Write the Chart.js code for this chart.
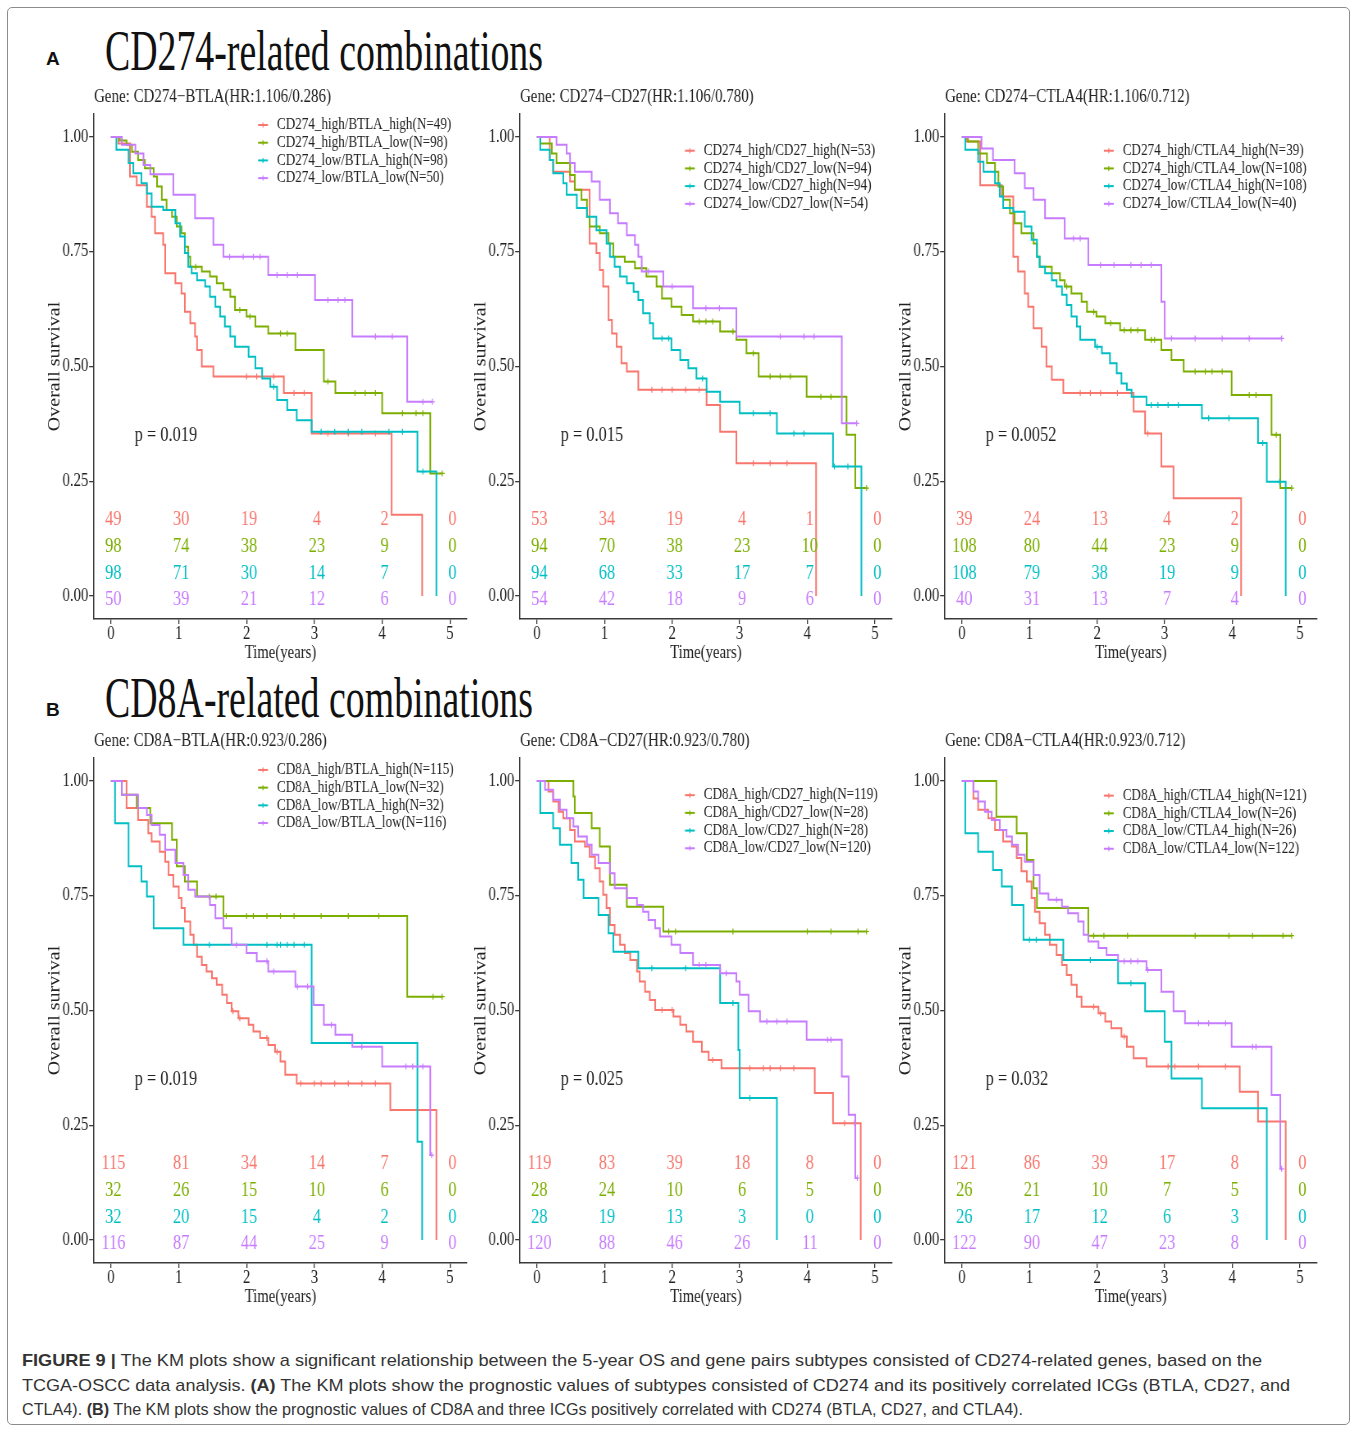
<!DOCTYPE html>
<html>
<head>
<meta charset="utf-8">
<script src="https://cdn.jsdelivr.net/npm/chart.js@4.4.1/dist/chart.umd.min.js"></script>
<style>
  html, body { margin: 0; padding: 0; background: #fff; }
  #page { position: relative; width: 1357px; height: 1430px; overflow: hidden; }
  .frame { position: absolute; left: 7px; top: 7px; width: 1341px; height: 1416px;
           border: 1.5px solid #8c8c8c; border-radius: 5px; }
  .tag { position: absolute; font: bold 19px/20px "Liberation Sans", Arial, sans-serif; color: #111; }
  .big { position: absolute; font: 56px/56px "Liberation Serif", "Times New Roman", serif; color: #111;
         white-space: nowrap; transform-origin: 0 0; }
  .plot { position: absolute; transform-origin: 0 0; }
  .cap { position: absolute; left: 22px; font: 17px/24px "Liberation Sans Narrow", "Liberation Sans", Arial, sans-serif;
         color: #333; white-space: nowrap; transform-origin: 0 0; }
</style>
</head>
<body>
<div id="page">
  <div class="frame"></div>
  <div class="tag" style="left:46px;top:49px">A</div>
  <div class="big" id="titleA" style="left:105px;top:23px">CD274-related combinations</div>
  <div class="tag" style="left:46px;top:700px">B</div>
  <div class="big" id="titleB" style="left:105px;top:670px">CD8A-related combinations</div>
  <div id="plots"></div>
  <div class="cap" id="cap1" style="top:1349px"><b>FIGURE 9 |</b> The KM plots show a significant relationship between the 5-year OS and gene pairs subtypes consisted of CD274-related genes, based on the</div>
  <div class="cap" id="cap2" style="top:1374px">TCGA-OSCC data analysis. <b>(A)</b> The KM plots show the prognostic values of subtypes consisted of CD274 and its positively correlated ICGs (BTLA, CD27, and</div>
  <div class="cap" id="cap3" style="top:1398px">CTLA4). <b>(B)</b> The KM plots show the prognostic values of CD8A and three ICGs positively correlated with CD274 (BTLA, CD27, and CTLA4).</div>
</div>
<script>
// survival steps: [time in years, survival after the drop]
const a1Red = [[0.11,0.986],[0.28,0.914],[0.38,0.895],[0.53,0.848],[0.60,0.826],[0.65,0.79],[0.77,0.765],[0.80,0.703],[0.95,0.681],[1.04,0.659],[1.09,0.619],[1.17,0.594],[1.24,0.565],[1.27,0.536],[1.34,0.50],[1.51,0.478],[2.55,0.442],[2.96,0.354],[4.14,0.177],[4.59,0]];
const a1Green = [[0.13,0.992],[0.23,0.983],[0.31,0.968],[0.40,0.95],[0.50,0.932],[0.63,0.914],[0.68,0.892],[0.75,0.863],[0.82,0.841],[0.90,0.826],[0.97,0.805],[1.04,0.79],[1.09,0.761],[1.14,0.739],[1.17,0.717],[1.34,0.707],[1.46,0.696],[1.56,0.681],[1.66,0.667],[1.76,0.652],[1.83,0.623],[2.00,0.609],[2.13,0.587],[2.32,0.572],[2.72,0.536],[3.14,0.467],[3.31,0.442],[4.00,0.398],[4.71,0.267]];
const a1Cyan = [[0.08,0.972],[0.26,0.943],[0.33,0.921],[0.45,0.899],[0.53,0.877],[0.60,0.848],[0.77,0.841],[0.95,0.812],[1.02,0.783],[1.09,0.747],[1.14,0.717],[1.19,0.703],[1.27,0.688],[1.39,0.674],[1.46,0.652],[1.54,0.63],[1.61,0.609],[1.68,0.587],[1.76,0.565],[1.83,0.543],[2.03,0.521],[2.13,0.496],[2.23,0.474],[2.35,0.456],[2.45,0.427],[2.60,0.405],[2.74,0.383],[2.96,0.358],[4.52,0.271],[4.80,0]];
const a1Purple = [[0.16,0.983],[0.36,0.964],[0.48,0.939],[0.58,0.919],[0.92,0.874],[1.24,0.823],[1.51,0.765],[1.66,0.739],[2.32,0.699],[3.01,0.645],[3.56,0.565],[4.37,0.423]];

const a2Red = [[0.19,0.95],[0.24,0.924],[0.49,0.903],[0.56,0.885],[0.78,0.768],[0.88,0.747],[0.93,0.71],[0.98,0.674],[1.06,0.601],[1.11,0.572],[1.18,0.543],[1.25,0.507],[1.33,0.489],[1.50,0.449],[2.51,0.416],[2.71,0.358],[2.95,0.289],[4.13,0]];
const a2Green = [[0.05,0.986],[0.22,0.964],[0.29,0.943],[0.49,0.917],[0.56,0.885],[0.66,0.863],[0.74,0.826],[0.78,0.805],[0.93,0.79],[1.06,0.768],[1.13,0.739],[1.30,0.728],[1.45,0.714],[1.62,0.696],[1.77,0.674],[1.85,0.648],[1.99,0.63],[2.14,0.612],[2.31,0.598],[2.71,0.576],[2.95,0.558],[3.10,0.529],[3.28,0.478],[3.99,0.434],[4.58,0.351],[4.71,0.235]];
const a2Cyan = [[0.05,0.972],[0.19,0.95],[0.24,0.921],[0.39,0.899],[0.44,0.874],[0.59,0.845],[0.74,0.826],[0.88,0.797],[1.03,0.768],[1.08,0.739],[1.15,0.717],[1.23,0.696],[1.33,0.681],[1.43,0.663],[1.50,0.645],[1.57,0.616],[1.67,0.594],[1.72,0.561],[1.99,0.536],[2.12,0.514],[2.24,0.496],[2.36,0.474],[2.51,0.445],[2.71,0.423],[3.00,0.398],[3.55,0.354],[4.38,0.282],[4.80,0]];
const a2Purple = [[0.29,0.983],[0.44,0.964],[0.49,0.943],[0.56,0.924],[0.81,0.903],[0.93,0.863],[1.08,0.834],[1.20,0.812],[1.33,0.786],[1.45,0.765],[1.50,0.739],[1.55,0.707],[1.87,0.674],[2.31,0.627],[2.95,0.565],[4.51,0.376]];

const a3Red = [[0.07,0.99],[0.27,0.895],[0.59,0.87],[0.76,0.739],[0.83,0.707],[0.93,0.659],[0.98,0.63],[1.06,0.583],[1.18,0.543],[1.25,0.50],[1.33,0.471],[1.50,0.442],[2.54,0.402],[2.71,0.354],[2.95,0.282],[3.13,0.213],[4.13,0]];
const a3Green = [[0.09,0.99],[0.24,0.964],[0.37,0.943],[0.49,0.924],[0.54,0.892],[0.61,0.863],[0.71,0.834],[0.78,0.812],[0.88,0.79],[1.06,0.768],[1.11,0.739],[1.15,0.717],[1.33,0.703],[1.45,0.688],[1.52,0.674],[1.62,0.659],[1.77,0.641],[1.85,0.619],[1.99,0.609],[2.12,0.594],[2.34,0.579],[2.71,0.558],[2.95,0.536],[3.10,0.514],[3.28,0.489],[3.99,0.438],[4.58,0.351],[4.71,0.235]];
const a3Cyan = [[0.05,0.972],[0.24,0.946],[0.32,0.924],[0.49,0.899],[0.56,0.87],[0.61,0.845],[0.76,0.837],[0.93,0.805],[1.03,0.776],[1.11,0.739],[1.15,0.717],[1.23,0.703],[1.33,0.688],[1.40,0.674],[1.48,0.656],[1.55,0.634],[1.62,0.609],[1.70,0.587],[1.75,0.558],[1.97,0.543],[2.07,0.529],[2.19,0.507],[2.29,0.485],[2.36,0.463],[2.44,0.449],[2.51,0.434],[2.73,0.416],[3.55,0.387],[4.38,0.333],[4.51,0.249],[4.79,0]];
const a3Purple = [[0.29,0.975],[0.46,0.95],[0.78,0.921],[0.93,0.888],[1.06,0.863],[1.23,0.823],[1.52,0.779],[1.87,0.721],[2.95,0.641],[3.00,0.561]];

const b1Red = [[0.23,0.941],[0.40,0.915],[0.55,0.886],[0.60,0.868],[0.72,0.846],[0.80,0.824],[0.85,0.795],[0.92,0.77],[1.00,0.745],[1.04,0.723],[1.09,0.694],[1.17,0.665],[1.22,0.643],[1.27,0.617],[1.34,0.599],[1.41,0.585],[1.49,0.57],[1.56,0.556],[1.64,0.534],[1.71,0.516],[1.78,0.498],[1.88,0.483],[2.03,0.469],[2.10,0.454],[2.20,0.44],[2.32,0.425],[2.42,0.41],[2.50,0.389],[2.57,0.36],[2.74,0.341],[4.12,0.283],[4.80,0]];
const b1Green = [[0.16,0.97],[0.38,0.941],[0.58,0.908],[0.90,0.872],[0.97,0.814],[1.09,0.781],[1.27,0.748],[1.66,0.706],[4.37,0.53]];
const b1Cyan = [[0.06,0.908],[0.26,0.814],[0.45,0.781],[0.53,0.748],[0.63,0.679],[1.07,0.643],[2.96,0.429],[4.52,0.214],[4.59,0]];
const b1Purple = [[0.16,0.97],[0.40,0.941],[0.53,0.926],[0.60,0.904],[0.72,0.883],[0.80,0.85],[0.95,0.821],[1.07,0.795],[1.14,0.763],[1.24,0.748],[1.46,0.73],[1.54,0.701],[1.66,0.679],[1.78,0.643],[2.00,0.625],[2.15,0.607],[2.32,0.585],[2.72,0.552],[2.99,0.512],[3.14,0.469],[3.31,0.447],[3.56,0.421],[4.00,0.378],[4.71,0.185]];

const b2Red = [[0.17,0.977],[0.24,0.955],[0.32,0.933],[0.39,0.919],[0.49,0.893],[0.56,0.868],[0.71,0.857],[0.78,0.835],[0.86,0.81],[0.93,0.781],[0.98,0.752],[1.03,0.723],[1.08,0.686],[1.15,0.665],[1.23,0.643],[1.30,0.625],[1.38,0.61],[1.48,0.585],[1.52,0.563],[1.60,0.541],[1.67,0.523],[1.75,0.501],[2.02,0.487],[2.12,0.469],[2.21,0.454],[2.31,0.432],[2.44,0.41],[2.54,0.392],[2.73,0.374],[4.11,0.32],[4.38,0.254],[4.79,0]];
const b2Green = [[0.54,0.966],[0.56,0.93],[0.81,0.897],[0.93,0.857],[1.08,0.774],[1.33,0.726],[1.87,0.672]];
const b2Cyan = [[0.05,0.93],[0.24,0.897],[0.34,0.861],[0.51,0.821],[0.61,0.785],[0.69,0.745],[0.91,0.708],[1.06,0.668],[1.13,0.628],[1.50,0.592],[2.71,0.516],[2.98,0.414],[3.00,0.309],[3.55,0]];
const b2Purple = [[0.12,0.981],[0.24,0.959],[0.34,0.937],[0.44,0.919],[0.54,0.901],[0.61,0.879],[0.74,0.861],[0.81,0.839],[0.91,0.821],[1.08,0.799],[1.15,0.766],[1.33,0.745],[1.48,0.73],[1.57,0.715],[1.65,0.697],[1.75,0.679],[1.82,0.661],[1.99,0.643],[2.12,0.625],[2.31,0.599],[2.71,0.581],[2.95,0.563],[3.00,0.534],[3.13,0.498],[3.30,0.476],[3.99,0.436],[4.51,0.356],[4.61,0.273],[4.71,0.135]];

const b3Red = [[0.17,0.962],[0.24,0.937],[0.39,0.919],[0.49,0.893],[0.61,0.868],[0.74,0.857],[0.81,0.832],[0.88,0.803],[0.96,0.781],[1.03,0.745],[1.08,0.715],[1.15,0.69],[1.23,0.665],[1.30,0.643],[1.40,0.621],[1.48,0.599],[1.55,0.577],[1.62,0.556],[1.70,0.53],[1.77,0.508],[2.02,0.494],[2.12,0.476],[2.21,0.461],[2.36,0.443],[2.44,0.421],[2.54,0.396],[2.73,0.378],[4.11,0.323],[4.38,0.258],[4.79,0]];
const b3Green = [[0.51,0.922],[0.81,0.886],[0.96,0.828],[1.06,0.766],[1.11,0.723],[1.87,0.663]];
const b3Cyan = [[0.05,0.886],[0.24,0.846],[0.46,0.806],[0.59,0.77],[0.74,0.73],[0.91,0.654],[1.50,0.61],[2.31,0.559],[2.71,0.498],[3.00,0.432],[3.10,0.352],[3.55,0.287],[4.51,0]];
const b3Purple = [[0.17,0.977],[0.24,0.955],[0.34,0.933],[0.44,0.915],[0.56,0.893],[0.66,0.879],[0.74,0.861],[0.83,0.839],[0.93,0.824],[1.06,0.795],[1.15,0.755],[1.28,0.741],[1.48,0.726],[1.57,0.712],[1.72,0.694],[1.80,0.665],[1.87,0.65],[2.02,0.636],[2.14,0.621],[2.31,0.607],[2.73,0.588],[2.95,0.541],[3.13,0.498],[3.30,0.472],[3.99,0.421],[4.58,0.316],[4.71,0.155]];

// censoring times (last entry = end of follow-up when the curve does not reach 0)
const a1RedCens = [2.0, 2.15, 2.4, 2.7, 2.85, 3.2, 3.5, 3.9];
const a1GreenCens = [1.25, 1.9, 2.05, 2.5, 2.6, 3.2, 3.6, 3.75, 3.9, 4.3, 4.5, 4.6, 4.885];
const a1CyanCens = [2.4, 3.1, 3.3, 3.5, 3.7, 4.1, 4.3, 4.6];
const a1PurpleCens = [1.75, 1.95, 2.1, 2.2, 2.45, 2.6, 2.75, 3.2, 3.35, 3.45, 3.9, 4.15, 4.6, 4.74];
const a2RedCens = [1.7, 1.85, 2.0, 2.2, 2.4, 3.2, 3.45, 3.7];
const a2GreenCens = [1.55, 2.4, 2.5, 2.6, 2.9, 3.2, 3.45, 3.6, 3.75, 4.2, 4.35, 4.877];
const a2CyanCens = [1.85, 1.95, 2.45, 3.2, 3.45, 3.8, 3.95, 4.4, 4.6];
const a2PurpleCens = [1.65, 2.0, 2.5, 2.7, 3.6, 3.95, 4.1, 4.73];
const a3RedCens = [1.75, 1.9, 2.05, 2.3, 2.75];
const a3GreenCens = [1.55, 1.95, 2.2, 2.4, 2.5, 2.6, 2.8, 2.85, 3.45, 3.6, 3.7, 3.85, 4.25, 4.35, 4.65, 4.877];
const a3CyanCens = [2.0, 2.8, 2.9, 3.05, 3.2, 3.65, 3.95, 4.45, 4.7];
const a3PurpleCens = [1.65, 1.75, 2.05, 2.25, 2.5, 2.65, 2.8, 3.1, 3.45, 3.85, 4.25, 4.73];
const b1RedCens = [1.8, 1.9, 2.3, 2.45, 2.8, 3.0, 3.1, 3.3, 3.5, 3.7, 3.9];
const b1GreenCens = [1.45, 1.55, 1.7, 2.0, 2.1, 2.3, 2.5, 2.7, 3.1, 3.5, 3.95, 4.75, 4.885];
const b1CyanCens = [1.45, 2.3, 2.45, 2.5, 2.6, 2.7, 2.85];
const b1PurpleCens = [1.85, 2.3, 2.4, 2.75, 2.9, 3.25, 3.7, 4.35, 4.45, 4.6, 4.73];
const b2RedCens = [1.85, 2.0, 2.6, 3.0, 3.15, 3.35, 3.45, 3.6, 3.8, 4.55, 4.7];
const b2GreenCens = [1.95, 2.05, 2.9, 4.0, 4.35, 4.75, 4.877];
const b2CyanCens = [1.7, 2.2, 2.9, 3.15];
const b2PurpleCens = [2.4, 2.5, 2.8, 3.4, 3.55, 3.7, 4.3, 4.35, 4.74];
const b3RedCens = [1.95, 2.05, 2.4, 3.05, 3.15, 3.5, 3.9];
const b3GreenCens = [1.95, 2.1, 2.45, 3.45, 3.95, 4.3, 4.75, 4.877];
const b3CyanCens = [1.0, 1.1, 1.9, 2.5];
const b3PurpleCens = [1.4, 2.4, 2.5, 2.6, 2.75, 3.5, 3.65, 3.9, 4.3, 4.35, 4.73];

// numbers at risk at years 0..5, one row per group
const a1Risk = [[49,30,19,4,2,0],[98,74,38,23,9,0],[98,71,30,14,7,0],[50,39,21,12,6,0]];
const a2Risk = [[53,34,19,4,1,0],[94,70,38,23,10,0],[94,68,33,17,7,0],[54,42,18,9,6,0]];
const a3Risk = [[39,24,13,4,2,0],[108,80,44,23,9,0],[108,79,38,19,9,0],[40,31,13,7,4,0]];
const b1Risk = [[115,81,34,14,7,0],[32,26,15,10,6,0],[32,20,15,4,2,0],[116,87,44,25,9,0]];
const b2Risk = [[119,83,39,18,8,0],[28,24,10,6,5,0],[28,19,13,3,0,0],[120,88,46,26,11,0]];
const b3Risk = [[121,86,39,17,8,0],[26,21,10,7,5,0],[26,17,12,6,3,0],[122,90,47,23,8,0]];

const a1Names = ['CD274_high/BTLA_high(N=49)', 'CD274_high/BTLA_low(N=98)', 'CD274_low/BTLA_high(N=98)', 'CD274_low/BTLA_low(N=50)'];
const a2Names = ['CD274_high/CD27_high(N=53)', 'CD274_high/CD27_low(N=94)', 'CD274_low/CD27_high(N=94)', 'CD274_low/CD27_low(N=54)'];
const a3Names = ['CD274_high/CTLA4_high(N=39)', 'CD274_high/CTLA4_low(N=108)', 'CD274_low/CTLA4_high(N=108)', 'CD274_low/CTLA4_low(N=40)'];
const b1Names = ['CD8A_high/BTLA_high(N=115)', 'CD8A_high/BTLA_low(N=32)', 'CD8A_low/BTLA_high(N=32)', 'CD8A_low/BTLA_low(N=116)'];
const b2Names = ['CD8A_high/CD27_high(N=119)', 'CD8A_high/CD27_low(N=28)', 'CD8A_low/CD27_high(N=28)', 'CD8A_low/CD27_low(N=120)'];
const b3Names = ['CD8A_high/CTLA4_high(N=121)', 'CD8A_high/CTLA4_low(N=26)', 'CD8A_low/CTLA4_high(N=26)', 'CD8A_low/CTLA4_low(N=122)'];

const X_TICKS = [0, 1, 2, 3, 4, 5];
const Y_TICKS = [0, 0.25, 0.5, 0.75, 1];
const HUES = ['#F8766D', '#7CAE00', '#00BFC4', '#C77CFF'];

const SERIF = '"Liberation Serif", "Times New Roman", serif';
const AXIS = '#3a3a3a';
const SQUEEZE = 0.82;              // plots are drawn a bit narrower than their fonts
const RISK_ROWS = [0.165, 0.107, 0.049, -0.009];

// the six panels, laid out in page pixels (x of year 0 / 5, y of 1.00 / 0.00)
const panels = [
  { gene: 'Gene: CD274\u2212BTLA(HR:1.106/0.286)', p: 'p = 0.019', names: a1Names, risk: a1Risk,
    steps: [a1Red, a1Green, a1Cyan, a1Purple], cens: [a1RedCens, a1GreenCens, a1CyanCens, a1PurpleCens],
    x0: 111, x5: 450, yTop: 137, yBot: 596, legendAt: [2.17, 1.026] },
  { gene: 'Gene: CD274\u2212CD27(HR:1.106/0.780)', p: 'p = 0.015', names: a2Names, risk: a2Risk,
    steps: [a2Red, a2Green, a2Cyan, a2Purple], cens: [a2RedCens, a2GreenCens, a2CyanCens, a2PurpleCens],
    x0: 537, x5: 875, yTop: 137, yBot: 596, legendAt: [2.19, 0.97] },
  { gene: 'Gene: CD274\u2212CTLA4(HR:1.106/0.712)', p: 'p = 0.0052', names: a3Names, risk: a3Risk,
    steps: [a3Red, a3Green, a3Cyan, a3Purple], cens: [a3RedCens, a3GreenCens, a3CyanCens, a3PurpleCens],
    x0: 962, x5: 1300, yTop: 137, yBot: 596, legendAt: [2.10, 0.97] },
  { gene: 'Gene: CD8A\u2212BTLA(HR:0.923/0.286)', p: 'p = 0.019', names: b1Names, risk: b1Risk,
    steps: [b1Red, b1Green, b1Cyan, b1Purple], cens: [b1RedCens, b1GreenCens, b1CyanCens, b1PurpleCens],
    x0: 111, x5: 450, yTop: 781, yBot: 1240, legendAt: [2.17, 1.024] },
  { gene: 'Gene: CD8A\u2212CD27(HR:0.923/0.780)', p: 'p = 0.025', names: b2Names, risk: b2Risk,
    steps: [b2Red, b2Green, b2Cyan, b2Purple], cens: [b2RedCens, b2GreenCens, b2CyanCens, b2PurpleCens],
    x0: 537, x5: 875, yTop: 781, yBot: 1240, legendAt: [2.19, 0.969] },
  { gene: 'Gene: CD8A\u2212CTLA4(HR:0.923/0.712)', p: 'p = 0.032', names: b3Names, risk: b3Risk,
    steps: [b3Red, b3Green, b3Cyan, b3Purple], cens: [b3RedCens, b3GreenCens, b3CyanCens, b3PurpleCens],
    x0: 962, x5: 1300, yTop: 781, yBot: 1240, legendAt: [2.10, 0.968] }
];

// KM curve points: start at (0, 1), one point per drop, censor ticks sit on the current level
function kmPoints(steps, cens) {
  const pts = [{ x: 0, y: 1 }];
  steps.forEach(([t, s]) => pts.push({ x: t, y: s }));
  cens.forEach(t => {
    let s = 1;
    steps.forEach(([st, sv]) => { if (st <= t) s = sv; });
    pts.push({ x: t, y: s, cens: true });
  });
  return pts.sort((a, b) => a.x - b.x);
}

// heading, p-value, legend and risk table drawn on top of the plot
const kmExtras = {
  id: 'kmExtras',
  afterDraw(chart, args, opts) {
    const { ctx, chartArea } = chart;
    const x = chart.scales.x, y = chart.scales.y;
    const ds = chart.data.datasets;
    ctx.save();
    ctx.textAlign = 'left';
    ctx.textBaseline = 'middle';
    ctx.fillStyle = '#222';
    ctx.font = '18.3px ' + SERIF;
    ctx.fillText(opts.gene, chartArea.left, chartArea.top - 17);

    ctx.font = '20px ' + SERIF;
    ctx.fillText(opts.pText, x.getPixelForValue(0.35), y.getPixelForValue(0.349));

    const lx = x.getPixelForValue(opts.legendAt[0]);
    const ly = y.getPixelForValue(opts.legendAt[1]);
    ctx.font = '16px ' + SERIF;
    ds.forEach((d, i) => {
      const yy = ly + i * 17.7;
      ctx.strokeStyle = d.borderColor;
      ctx.lineWidth = 2;
      ctx.beginPath(); ctx.moveTo(lx, yy); ctx.lineTo(lx + 12, yy); ctx.stroke();
      ctx.lineWidth = 1.2;
      ctx.beginPath(); ctx.moveTo(lx + 6, yy - 2.5); ctx.lineTo(lx + 6, yy + 2.5); ctx.stroke();
      ctx.fillStyle = '#222';
      ctx.fillText(d.label, lx + 23, yy);
    });

    ctx.font = '20px ' + SERIF;
    ctx.textAlign = 'center';
    opts.risk.forEach((row, i) => {
      ctx.fillStyle = ds[i].borderColor;
      const yy = y.getPixelForValue(RISK_ROWS[i]);
      row.forEach((n, k) => ctx.fillText(String(n), x.getPixelForValue(X_TICKS[k]) + 3, yy));
    });
    ctx.restore();
  }
};

function drawPanel(p) {
  const span = p.x5 - p.x0, vspan = p.yBot - p.yTop;
  const L = p.x0 - 0.05 * span, R = p.x5 + 0.05 * span;
  const T = p.yTop - 0.05 * vspan, B = p.yBot + 0.05 * vspan;
  const left = L - 60, top = T - 40;
  const yW = 60 / SQUEEZE;
  const plotW = (R - L) / SQUEEZE;
  const W = Math.ceil(yW + plotW + 6);
  const H = Math.round(B + 50 - top);
  const xH = H - 40 - (B - T);

  const wrap = document.createElement('div');
  wrap.className = 'plot';
  wrap.style.left = left + 'px';
  wrap.style.top = top + 'px';
  wrap.style.width = W + 'px';
  wrap.style.height = H + 'px';
  wrap.style.transform = 'scaleX(' + SQUEEZE + ')';
  const cv = document.createElement('canvas');
  cv.width = W; cv.height = H;
  cv.style.width = W + 'px'; cv.style.height = H + 'px';
  wrap.appendChild(cv);
  document.getElementById('plots').appendChild(wrap);

  const tickFont = { family: SERIF, size: 18 };
  new Chart(cv.getContext('2d'), {
    type: 'line',
    data: {
      datasets: p.steps.map((st, i) => ({
        label: p.names[i],
        data: kmPoints(st, p.cens[i]),
        borderColor: HUES[i],
        backgroundColor: HUES[i],
        borderWidth: 2,
        stepped: true,
        fill: false,
        order: 3 - i,
        pointStyle: 'cross',
        pointRadius: ctx => (ctx.raw && ctx.raw.cens ? 3 : 0),
        pointBorderColor: HUES[i],
        pointBorderWidth: 1.2,
        pointHoverRadius: 0
      }))
    },
    options: {
      responsive: false,
      devicePixelRatio: 1,
      animation: false,
      events: [],
      layout: { padding: { left: 0, top: T - top, right: W - yW - plotW, bottom: 0 } },
      scales: {
        x: {
          type: 'linear', min: -0.25, max: 5.25,
          afterBuildTicks: s => { s.ticks = X_TICKS.map(v => ({ value: v })); },
          afterFit: s => { s.height = xH; },
          grid: { display: true, drawOnChartArea: false, drawTicks: true, tickLength: 5, color: AXIS, lineWidth: 1.3 },
          border: { display: true, color: AXIS, width: 1.5 },
          ticks: { font: tickFont, color: '#222', padding: 0, maxRotation: 0, autoSkip: false, callback: v => String(v) },
          title: { display: true, text: 'Time(years)', font: { family: SERIF, size: 18 }, color: '#222', padding: { top: 0, bottom: 5 } }
        },
        y: {
          type: 'linear', min: -0.05, max: 1.05,
          afterBuildTicks: s => { s.ticks = Y_TICKS.map(v => ({ value: v })); },
          afterFit: s => { s.width = yW; },
          grid: { display: true, drawOnChartArea: false, drawTicks: true, tickLength: 6, color: AXIS, lineWidth: 1.3 },
          border: { display: true, color: AXIS, width: 1.5 },
          ticks: { font: tickFont, color: '#222', padding: 1, autoSkip: false, callback: v => v.toFixed(2) },
          title: { display: true, text: 'Overall survival', font: { family: SERIF, size: 20 }, color: '#222', padding: { top: 13.5, bottom: 0 } }
        }
      },
      plugins: {
        legend: { display: false },
        tooltip: { enabled: false },
        kmExtras: { gene: p.gene, pText: p.p, legendAt: p.legendAt, risk: p.risk }
      }
    },
    plugins: [kmExtras]
  });
}

panels.forEach(drawPanel);

// squeeze headings and caption lines to their printed widths
function fitWidth(id, target) {
  const el = document.getElementById(id);
  const w = el.getBoundingClientRect().width;
  el.style.transform = 'scaleX(' + (target / w) + ')';
}
fitWidth('titleA', 438);
fitWidth('titleB', 428);
fitWidth('cap1', 1240);
fitWidth('cap2', 1268);
fitWidth('cap3', 1001);
</script>
</body>
</html>
